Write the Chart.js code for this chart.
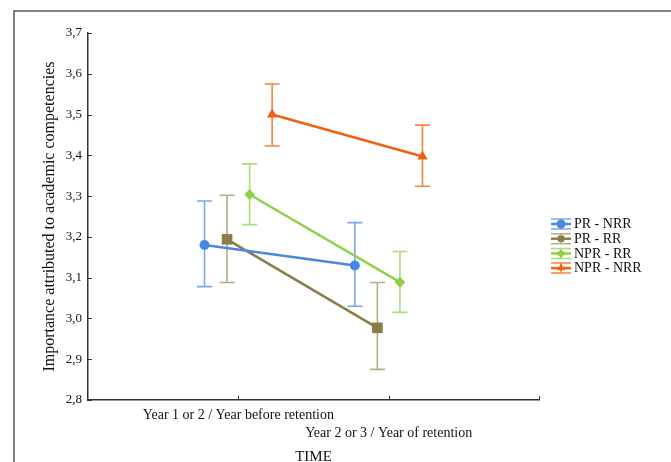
<!DOCTYPE html>
<html>
<head>
<meta charset="utf-8">
<script src="https://cdn.jsdelivr.net/npm/chart.js@4"></script>
<style>
 html, body { margin: 0; padding: 0; background: #fff; }
 #wrap { width: 671px; height: 462px; }
</style>
</head>
<body>
<div id="wrap"><canvas id="chart" width="671" height="462"></canvas></div>
<script>
// Data
const timeLabels = ["Year 1 or 2 / Year before retention", "Year 2 or 3 / Year of retention"];
const groupNames = ["PR - NRR", "PR - RR", "NPR - RR", "NPR - NRR"];
const groupOffsets = [-0.225, -0.075, 0.075, 0.225];

const prNrrMean = [3.18, 3.13];
const prNrrLow = [3.078, 3.03];
const prNrrHigh = [3.288, 3.235];

const prRrMean = [3.194, 2.977];
const prRrLow = [3.088, 2.875];
const prRrHigh = [3.302, 3.088];

const nprRrMean = [3.304, 3.089];
const nprRrLow = [3.23, 3.015];
const nprRrHigh = [3.379, 3.164];

const nprNrrMean = [3.5, 3.397];
const nprNrrLow = [3.423, 3.324];
const nprNrrHigh = [3.575, 3.474];

const yTicks = ["2,8", "2,9", "3,0", "3,1", "3,2", "3,3", "3,4", "3,5", "3,6", "3,7"];

const serif = "'Liberation Serif', 'DejaVu Serif', serif";

// one dataset per group, x = time index + offset
function makeSet(i, mean, low, high, color, barColor, pointStyle, radius) {
 return {
  label: groupNames[i],
  data: mean.map((v, t) => ({ x: t + 1 + groupOffsets[i], y: v })),
  low: low,
  high: high,
  barColor: barColor,
  borderColor: color,
  backgroundColor: color,
  borderWidth: 2.5,
  pointStyle: pointStyle,
  pointRadius: radius,
  pointBorderWidth: 0,
  tension: 0,
 };
}

const datasets = [
 makeSet(0, prNrrMean, prNrrLow, prNrrHigh, "#4a88e0", "#7ba7e8", "circle", 5),
 makeSet(1, prRrMean, prRrLow, prRrHigh, "#8a7d48", "#b7ac86", "rect", 7.5),
 makeSet(2, nprRrMean, nprRrLow, nprRrHigh, "#8fd24a", "#a8de72", "rectRot", 5.5),
 makeSet(3, nprNrrMean, nprNrrLow, nprNrrHigh, "#f0600f", "#f5843f", "triangle", 6),
];

// outer frame (top and left edge of the figure box)
const framePlugin = {
 id: "frame",
 beforeDraw(chart) {
  const ctx = chart.ctx;
  ctx.save();
  ctx.strokeStyle = "#5a5a5a";
  ctx.lineWidth = 1.5;
  ctx.beginPath();
  ctx.moveTo(14, 462);
  ctx.lineTo(14, 11);
  ctx.lineTo(671, 11);
  ctx.stroke();
  ctx.restore();
 },
};

// inside tick marks on both axes
const innerTicksPlugin = {
 id: "innerTicks",
 afterDraw(chart) {
  const { ctx, scales } = chart;
  const xs = scales.x, ys = scales.y;
  ctx.save();
  ctx.strokeStyle = "#333";
  ctx.lineWidth = 1;
  ctx.beginPath();
  ys.ticks.forEach((t) => {
   const py = Math.round(ys.getPixelForValue(t.value)) + 0.5;
   ctx.moveTo(xs.left, py);
   ctx.lineTo(xs.left + 4, py);
  });
  xs.ticks.forEach((t) => {
   if (t.value === 0) return;
   const px = Math.round(xs.getPixelForValue(t.value)) + 0.5;
   ctx.moveTo(px, ys.bottom);
   ctx.lineTo(px, ys.bottom - 4);
  });
  ctx.stroke();
  ctx.restore();
 },
};

// error bars drawn under the lines
const errorBarPlugin = {
 id: "errorBars",
 beforeDatasetsDraw(chart) {
  const { ctx, scales } = chart;
  const xs = scales.x, ys = scales.y;
  ctx.save();
  ctx.lineWidth = 1.6;
  chart.data.datasets.forEach((ds) => {
   ctx.strokeStyle = ds.barColor;
   ds.data.forEach((p, i) => {
    const px = xs.getPixelForValue(p.x);
    const top = ys.getPixelForValue(ds.high[i]);
    const bot = ys.getPixelForValue(ds.low[i]);
    ctx.beginPath();
    ctx.moveTo(px, top);
    ctx.lineTo(px, bot);
    ctx.moveTo(px - 7.5, top);
    ctx.lineTo(px + 7.5, top);
    ctx.moveTo(px - 7.5, bot);
    ctx.lineTo(px + 7.5, bot);
    ctx.stroke();
   });
  });
  ctx.restore();
 },
};

// legend with small error-bar glyphs
const legendPlugin = {
 id: "sideLegend",
 afterDraw(chart) {
  const ctx = chart.ctx;
  const x0 = 551, y0 = 224, step = 14.7;
  ctx.save();
  chart.data.datasets.forEach((ds, i) => {
   const y = y0 + i * step;
   ctx.strokeStyle = ds.barColor;
   ctx.lineWidth = 1.5;
   ctx.beginPath();
   ctx.moveTo(x0, y - 5); ctx.lineTo(x0 + 20, y - 5);
   ctx.moveTo(x0, y + 5); ctx.lineTo(x0 + 20, y + 5);
   ctx.moveTo(x0 + 10, y - 5); ctx.lineTo(x0 + 10, y + 5);
   ctx.stroke();
   ctx.strokeStyle = ds.borderColor;
   ctx.lineWidth = 2.5;
   ctx.beginPath();
   ctx.moveTo(x0, y); ctx.lineTo(x0 + 20, y);
   ctx.stroke();
   ctx.fillStyle = ds.borderColor;
   Chart.helpers.drawPoint(ctx, { pointStyle: ds.pointStyle, radius: 4.5, borderWidth: 0 }, x0 + 10, y);
   ctx.fillStyle = "#111";
   ctx.font = "14px " + serif;
   ctx.textBaseline = "middle";
   ctx.fillText(ds.label, x0 + 23, y + 0.5);
  });
  ctx.restore();
 },
};

const config = {
 type: "line",
 data: { datasets: datasets },
 options: {
  responsive: false,
  animation: false,
  layout: { padding: { left: 0, top: 33, right: 132, bottom: 0 } },
  plugins: {
   legend: { display: false },
   tooltip: { enabled: false },
  },
  scales: {
   x: {
    type: "linear",
    min: 0,
    max: 3,
    grid: { display: false, drawTicks: false },
    border: { display: true, color: "#333", width: 1.5 },
    ticks: {
     stepSize: 1,
     padding: 7,
     autoSkip: false,
     maxRotation: 0,
     color: "#111",
     font: { family: serif, size: 14, lineHeight: 1.25 },
     callback: (v) => (v === 1 ? [timeLabels[0]] : v === 2 ? ["", timeLabels[1]] : ""),
    },
    title: {
     display: true,
     text: "TIME",
     color: "#111",
     font: { family: serif, size: 15, lineHeight: 0.6 },
     padding: 0,
    },
    afterFit: (scale) => { scale.height = 62; },
   },
   y: {
    min: 2.8,
    max: 3.7,
    grid: { display: false, drawTicks: false },
    border: { display: true, color: "#333", width: 1.5 },
    ticks: {
     stepSize: 0.1,
     padding: 6,
     color: "#111",
     font: { family: serif, size: 13 },
     callback: (v) => yTicks[Math.round((v - 2.8) * 10)],
    },
    title: {
     display: true,
     text: "Importance attributed to academic competencies",
     color: "#111",
     font: { family: serif, size: 16, lineHeight: 1.2 },
     padding: { top: 40, bottom: 0 },
    },
    afterFit: (scale) => { scale.width = 88; },
   },
  },
 },
 plugins: [framePlugin, errorBarPlugin, innerTicksPlugin, legendPlugin],
};

const chart = new Chart(document.getElementById("chart"), config);
</script>
</body>
</html>
